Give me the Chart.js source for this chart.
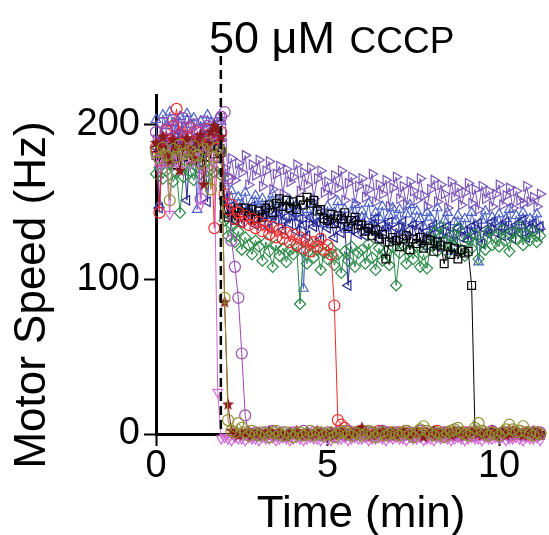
<!DOCTYPE html>
<html>
<head>
<meta charset="utf-8">
<script src="https://cdn.jsdelivr.net/npm/chart.js"></script>
<style>
    html, body { margin: 0; padding: 0; background: #fff; }
    canvas { display: block; }
</style>
</head>
<body>
<canvas id="chart" width="549" height="535"></canvas>
<script>
// time axis (min), one sample every 0.1 min
const times = [
    0.0, 0.1, 0.2, 0.3, 0.4, 0.5, 0.6, 0.7, 0.8, 0.9,
    1.0, 1.1, 1.2, 1.3, 1.4, 1.5, 1.6, 1.7, 1.8, 1.9,
    2.0, 2.1, 2.2, 2.3, 2.4, 2.5, 2.6, 2.7, 2.8, 2.9,
    3.0, 3.1, 3.2, 3.3, 3.4, 3.5, 3.6, 3.7, 3.8, 3.9,
    4.0, 4.1, 4.2, 4.3, 4.4, 4.5, 4.6, 4.7, 4.8, 4.9,
    5.0, 5.1, 5.2, 5.3, 5.4, 5.5, 5.6, 5.7, 5.8, 5.9,
    6.0, 6.1, 6.2, 6.3, 6.4, 6.5, 6.6, 6.7, 6.8, 6.9,
    7.0, 7.1, 7.2, 7.3, 7.4, 7.5, 7.6, 7.7, 7.8, 7.9,
    8.0, 8.1, 8.2, 8.3, 8.4, 8.5, 8.6, 8.7, 8.8, 8.9,
    9.0, 9.1, 9.2, 9.3, 9.4, 9.5, 9.6, 9.7, 9.8, 9.9,
    10.0, 10.1, 10.2, 10.3, 10.4, 10.5, 10.6, 10.7, 10.8, 10.9,
    11.0, 11.1, 11.2
];

// motor speed (Hz) for each motor
const oliveCircles = [
    182, 178, 185, 180, 151, 184, 179, 187, 181, 177,
    183, 186, 180, 175, 184, 188, 158, 179, 185, 183,
    88, 9, 2, 1, 7, 4, 1, -1, 2, 0,
    -1, 1, 0, -2, 1, 2, 0, -1, 1, 0,
    -2, 0, 1, -1, 0, 2, -1, 0, 1, -1,
    0, 1, -2, 0, 1, 2, 0, -1, 1, 0,
    -1, 0, 2, 1, -2, 0, 1, -1, 0, 1,
    0, -1, 1, 2, 0, -2, 1, 3, 5, 2,
    0, -1, 1, 0, -2, 1, 2, 3, 4, 1,
    0, -1, 1, 4, 7, 2, 0, -1, 1, 0,
    -1, 1, 3, 6, 3, 1, 2, 5, 1, 0,
    -1, 1, 0
];
const darkRedStars = [
    188, 185, 192, 180, 176, 190, 184, 170, 186, 191,
    183, 178, 189, 193, 161, 187, 195, 199, 196, 192,
    85, 19, 2, 0, -1, 1, 0, 2, -1, 0,
    1, -1, 0, 2, 0, -1, 1, 0, -2, 1,
    0, 2, -1, 0, 1, -1, 0, 2, 1, -1,
    0, 1, -1, 0, 2, 0, -1, 1, 0, 2,
    4, 1, 0, -1, 1, 0, 2, -1, 0, 1,
    -1, 0, 2, 1, -1, 0, 1, 0, -2, 1,
    0, 2, -1, 0, 1, 0, -1, 2, 0, 1,
    -1, 0, 1, 2, 0, -1, 1, 0, 2, -1,
    0, 1, -1, 0, 2, 1, 0, -1, 1, 0,
    2, -1, 0
];
const pinkTriangles = [
    178, 172, 181, 175, 142, 183, 177, 171, 180, 186,
    174, 179, 182, 148, 170, 184, 180, 175, 27, -3,
    -2, -3, -4, -2, -3, -3, -4, -2, -3, -3,
    -4, -2, -3, -3, -2, -4, -3, -2, -3, -4,
    -3, -2, -3, -4, -3, -2, -3, -3, -4, -2,
    -3, -4, -2, -3, -3, -2, -4, -3, -2, -3,
    -3, -2, -4, -3, -3, -2, -3, -4, -2, -3,
    -2, -3, -3, -4, -2, -3, -3, -2, -4, -3,
    -3, -4, -2, -3, -2, -3, -4, -3, -2, -3,
    -4, -3, -2, -3, -3, -4, -2, -3, -3, -2,
    -3, -2, -4, -3, -3, -2, -3, -4, -2, -3,
    -3, -2, -4
];
const purpleCircles = [
    195, 188, 201, 197, 176, 203, 199, 192, 204, 198,
    185, 200, 196, 152, 202, 199, 193, 197, 201, 205,
    208, 165, 125, 108, 88, 52, 12, 0, -1, 1,
    0, -1, 1, 0, 2, -1, 0, 1, -1, 0,
    1, 0, -1, 2, 0, -1, 1, 0, -1, 0,
    1, -1, 0, 1, 0, -1, 2, 0, -1, 1,
    0, -1, 1, 0, -1, 0, 2, 1, -1, 0,
    1, 0, -1, 0, 1, -1, 0, 2, 0, -1,
    0, 1, -1, 0, 1, 0, -1, 0, 1, -1,
    0, 1, 0, -1, 1, 0, -1, 0, 2, 0,
    -1, 0, 1, -1, 0, 1, 0, -1, 0, 1,
    0, -1, 1
];
const redCircles = [
    185, 143, 190, 196, 188, 199, 210, 194, 187, 192,
    198, 189, 195, 186, 193, 197, 190, 133, 191, 195,
    155, 145, 148, 139, 143, 137, 141, 135, 139, 133,
    137, 131, 135, 129, 134, 127, 132, 126, 130, 124,
    129, 122, 127, 120, 125, 118, 124, 121, 126, 119,
    122, 116, 83, 9, 6, 4, 0, -1, 1, 0,
    2, 0, -1, 1, 0, 2, -1, 0, 1, 0,
    -1, 1, 0, 2, 0, -1, 1, 0, 1, -1,
    0, 1, 2, 0, -1, 1, 0, 1, -1, 0,
    1, 0, -1, 1, 0, 2, 0, -1, 1, 0,
    -1, 1, 0, 1, -1, 0, 2, 0, 1, -1,
    0, 1, 0
];
const blackSquares = [
    180, 176, 183, 178, 185, 181, 174, 186, 179, 182,
    177, 184, 180, 175, 183, 179, 186, 181, 178, 182,
    145, 140, 144, 138, 146, 143, 146, 141, 145, 139,
    144, 140, 146, 148, 143, 149, 152, 147, 151, 146,
    150, 145, 151, 148, 153, 149, 151, 144, 145, 139,
    138, 142, 136, 141, 139, 143, 134, 138, 140, 135,
    135, 131, 133, 128, 132, 126, 129, 113, 124, 127,
    125, 121, 126, 128, 119, 126, 123, 127, 120, 126,
    125, 118, 124, 122, 110, 121, 116, 120, 113, 119,
    117, 118, 96, 0, 1, -1, 0, 1, -1, 0,
    1, 0, -1, 0, 1, -1, 0, 1, 0, -1,
    0, 1, -1
];
const greenDiamonds = [
    168, 172, 165, 170, 174, 163, 169, 143, 166, 173,
    170, 164, 172, 168, 175, 166, 171, 169, 173, 167,
    138, 128, 135, 124, 131, 119, 127, 122, 116, 125,
    121, 112, 124, 118, 108, 122, 115, 120, 111, 119,
    116, 121, 84, 118, 110, 123, 114, 119, 106, 117,
    113, 120, 109, 116, 104, 118, 112, 121, 108, 117,
    119, 110, 123, 114, 106, 120, 112, 118, 109, 121,
    96, 117, 122, 110, 118, 113, 121, 108, 116, 107,
    122, 130, 118, 134, 124, 117, 128, 121, 133, 119,
    115, 126, 120, 129, 113, 124, 119, 131, 122, 127,
    121, 132, 125, 118, 130, 126, 134, 122, 129, 125,
    131, 124, 128
];
const navyTriangles = [
    185, 146, 190, 187, 192, 183, 188, 195, 186, 151,
    189, 191, 184, 187, 193, 150, 186, 190, 188, 184,
    152, 141, 147, 138, 145, 136, 143, 139, 147, 135,
    142, 137, 146, 133, 141, 138, 145, 132, 140, 136,
    143, 131, 139, 135, 128, 140, 134, 137, 126, 138,
    133, 139, 127, 136, 130, 137, 96, 132, 138, 129,
    136, 128, 134, 131, 139, 126, 135, 130, 137, 125,
    133, 129, 137, 124, 132, 135, 127, 134, 122, 131,
    128, 135, 121, 132, 126, 134, 129, 124, 133, 127,
    131, 125, 134, 128, 136, 123, 132, 129, 137, 130,
    134, 128, 137, 131, 126, 135, 130, 138, 127, 133,
    136, 129, 134
];
const blueTriangles = [
    203, 148, 206, 199, 208, 201, 196, 205, 198, 207,
    200, 204, 145, 202, 197, 206, 201, 199, 204, 202,
    162, 151, 157, 145, 153, 148, 156, 143, 150, 154,
    146, 152, 141, 149, 155, 143, 150, 138, 147, 151,
    140, 148, 143, 94, 145, 139, 149, 136, 144, 141,
    147, 135, 143, 150, 138, 145, 132, 142, 148, 137,
    144, 139, 149, 135, 143, 140, 147, 133, 141, 146,
    138, 145, 131, 142, 148, 136, 144, 139, 134, 143,
    140, 133, 146, 129, 138, 143, 118, 137, 141, 132,
    139, 126, 143, 135, 111, 138, 144, 131, 140, 136,
    142, 134, 139, 145, 131, 141, 137, 143, 130, 139,
    136, 142, 134
];
const purpleTriangles = [
    190, 186, 193, 188, 185, 191, 187, 194, 189, 186,
    192, 188, 185, 190, 193, 187, 191, 189, 186, 190,
    172, 166, 178, 164, 175, 169, 180, 161, 174, 167,
    177, 160, 170, 176, 158, 168, 173, 155, 171, 163,
    166, 174, 157, 169, 161, 172, 152, 165, 170, 156,
    163, 154, 167, 159, 170, 151, 162, 166, 149, 160,
    165, 153, 158, 168, 150, 161, 155, 164, 147, 159,
    166, 152, 160, 148, 163, 157, 151, 165, 154, 147,
    158, 164, 150, 161, 155, 146, 163, 153, 159, 148,
    156, 162, 149, 158, 145, 160, 152, 157, 147, 155,
    161, 148, 154, 159, 146, 157, 151, 149, 160, 150,
    153, 147, 155
];

const yTicks = [0, 100, 200];
const xTicks = [0, 5, 10];
const cccpTime = 1.89;

// filled star marker (Chart.js star is only strokes)
function makeStar(color) {
    const c = document.createElement('canvas');
    c.width = 14;
    c.height = 14;
    const g = c.getContext('2d');
    g.beginPath();
    for (let i = 0; i < 10; i++) {
        const r = i % 2 === 0 ? 6.5 : 2.8;
        const a = -Math.PI / 2 + i * Math.PI / 5;
        const px = 7 + r * Math.cos(a);
        const py = 7 + r * Math.sin(a);
        if (i === 0) g.moveTo(px, py); else g.lineTo(px, py);
    }
    g.closePath();
    g.fillStyle = color;
    g.fill();
    return c;
}

function series(values, color, style, rotation) {
    return {
        data: times.map((t, i) => ({ x: t, y: values[i] })),
        borderColor: color,
        borderWidth: 1,
        pointStyle: style,
        pointRotation: rotation || 0,
        pointRadius: 5.5,
        pointBorderWidth: 1.2,
        pointBorderColor: color,
        pointBackgroundColor: 'rgba(0,0,0,0)',
        clip: false,
    };
}

// first dataset is drawn on top
const datasets = [
    series(oliveCircles, '#8e8e32', 'circle'),
    series(darkRedStars, '#8b1c1c', makeStar('#8b1c1c')),
    series(pinkTriangles, '#d26ad6', 'triangle', 180),
    series(purpleCircles, '#9a48b2', 'circle'),
    series(redCircles, '#ee2b2b', 'circle'),
    series(blackSquares, '#000000', 'rect'),
    series(greenDiamonds, '#2b8a48', 'rectRot'),
    series(navyTriangles, '#25258f', 'triangle', -90),
    series(blueTriangles, '#4b63c9', 'triangle'),
    series(purpleTriangles, '#7a55b8', 'triangle', 90),
];

const overlay = {
    id: 'overlay',
    afterDatasetsDraw(chart) {
        const ctx = chart.ctx;
        const xs = chart.scales.x;
        const ys = chart.scales.y;
        const xc = xs.getPixelForValue(cccpTime);
        ctx.save();

        // CCCP addition
        ctx.strokeStyle = '#000';
        ctx.lineWidth = 2.5;
        ctx.setLineDash([9, 5]);
        ctx.beginPath();
        ctx.moveTo(xc, 56);
        ctx.lineTo(xc, ys.getPixelForValue(0));
        ctx.stroke();
        ctx.setLineDash([]);

        ctx.fillStyle = '#000';
        ctx.textBaseline = 'alphabetic';
        ctx.textAlign = 'left';
        ctx.font = '45px "Liberation Sans", Arial, sans-serif';
        ctx.fillText('50 μM', 209, 53);
        const w = ctx.measureText('50 μM ').width;
        ctx.font = '37px "Liberation Sans", Arial, sans-serif';
        ctx.fillText('CCCP', 209 + w + 2, 53);

        // axis titles
        ctx.font = '44px "Liberation Sans", Arial, sans-serif';
        ctx.textAlign = 'center';
        ctx.fillText('Time (min)', 361, 527);

        ctx.translate(45, 295);
        ctx.rotate(-Math.PI / 2);
        ctx.fillText('Motor Speed (Hz)', 0, 0);
        ctx.restore();
    }
};

new Chart(document.getElementById('chart'), {
    type: 'line',
    data: { datasets: datasets },
    options: {
        responsive: false,
        animation: false,
        layout: { padding: { top: 95, left: 0, right: 0, bottom: 0 } },
        plugins: {
            legend: { display: false },
            tooltip: { enabled: false },
        },
        scales: {
            x: {
                type: 'linear',
                min: 0,
                max: 11.26,
                afterFit: scale => { scale.height = 101; },
                afterBuildTicks: scale => { scale.ticks = xTicks.map(v => ({ value: v })); },
                border: { display: true, color: '#000', width: 3 },
                grid: { display: true, drawOnChartArea: false, drawTicks: true, tickLength: 12, tickWidth: 2, tickColor: '#000' },
                ticks: {
                    color: '#000',
                    padding: 2,
                    maxRotation: 0,
                    font: { family: '"Liberation Sans", Arial, sans-serif', size: 38, lineHeight: 1 },
                },
            },
            y: {
                min: 0,
                max: 219,
                afterFit: scale => { scale.width = 156; },
                afterBuildTicks: scale => { scale.ticks = yTicks.map(v => ({ value: v })); },
                border: { display: true, color: '#000', width: 3 },
                grid: { display: true, drawOnChartArea: false, drawTicks: true, tickLength: 12, tickWidth: 2, tickColor: '#000' },
                ticks: {
                    color: '#000',
                    padding: 4,
                    font: { family: '"Liberation Sans", Arial, sans-serif', size: 38, lineHeight: 1 },
                },
            },
        },
    },
    plugins: [overlay],
});
</script>
</body>
</html>
